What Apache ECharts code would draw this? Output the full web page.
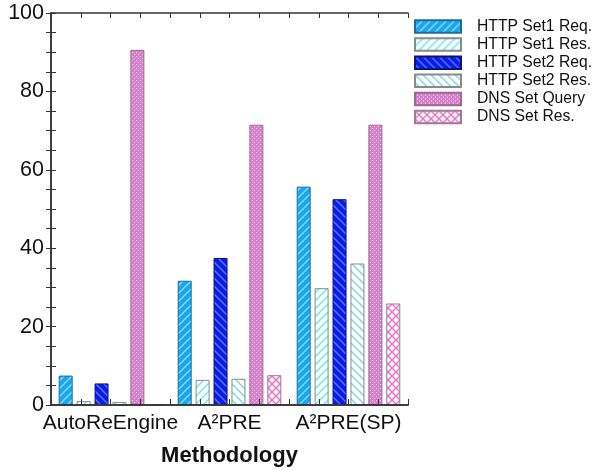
<!DOCTYPE html>
<html>
<head>
<meta charset="utf-8">
<script src="https://cdn.jsdelivr.net/npm/echarts@6/dist/echarts.min.js"></script>
<style>html,body{margin:0;padding:0;background:#fff}#c{width:592px;height:470px}</style>
</head>
<body>
<div id="c"></div>
<script>
var categories = ['AutoReEngine', 'A\u00B2PRE', 'A\u00B2PRE(SP)'];
var seriesNames = ['HTTP Set1 Req.', 'HTTP Set1 Res.', 'HTTP Set2 Req.', 'HTTP Set2 Res.', 'DNS Set Query', 'DNS Set Res.'];
var http1Req = [7.5, 31.7, 55.7];
var http1Res = [1.0, 6.4, 29.8];
var http2Req = [5.5, 37.5, 52.5];
var http2Res = [0.8, 6.7, 36.1];
var dnsQuery = [90.6, 71.5, 71.5];
var dnsRes = [0, 7.6, 25.9];
var yTicks = [0, 20, 40, 60, 80, 100];

function pat(bg, fg, type) {
  var s = type === 'dots' ? 4 : 8;
  var c = document.createElement('canvas');
  c.width = s; c.height = s;
  var g = c.getContext('2d');
  g.fillStyle = bg; g.fillRect(0, 0, s, s);
  g.strokeStyle = fg; g.fillStyle = fg; g.lineWidth = 1.3;
  function fw() { g.beginPath(); g.moveTo(-1, s + 1); g.lineTo(s + 1, -1); g.stroke();
    g.beginPath(); g.moveTo(-1, 1); g.lineTo(1, -1); g.stroke();
    g.beginPath(); g.moveTo(s - 1, s + 1); g.lineTo(s + 1, s - 1); g.stroke(); }
  function bw() { g.beginPath(); g.moveTo(-1, -1); g.lineTo(s + 1, s + 1); g.stroke();
    g.beginPath(); g.moveTo(s - 1, -1); g.lineTo(s + 1, 1); g.stroke();
    g.beginPath(); g.moveTo(-1, s - 1); g.lineTo(1, s + 1); g.stroke(); }
  if (type === 'fw') fw();
  else if (type === 'bw') bw();
  else if (type === 'cross') { fw(); bw(); }
  else if (type === 'dots') { g.fillRect(0, 0, 1, 1); g.fillRect(2, 2, 1, 1); }
  return { image: c, repeat: 'repeat' };
}

var styles = [
  { color: pat('#19A8EE', '#8ED6FA', 'fw'), borderColor: '#1B6C9C' },
  { color: pat('#F2FFFF', '#7FE0E6', 'fw'), borderColor: '#8A8A8A' },
  { color: pat('#0A1DE8', '#5C7BFF', 'bw'), borderColor: '#0A1478' },
  { color: pat('#F6FFFF', '#94CBDC', 'bw'), borderColor: '#8A8A8A' },
  { color: pat('#D77ECB', '#FBE8F6', 'dots'), borderColor: '#9A6A92' },
  { color: pat('#FFF2FC', '#DA78BE', 'cross'), borderColor: '#A0789A' }
];
var dataArr = [http1Req, http1Res, http2Req, http2Res, dnsQuery, dnsRes];

var series = dataArr.map(function (d, i) {
  return {
    name: seriesNames[i], type: 'bar', data: d,
    xAxisIndex: 0, yAxisIndex: 0,
    barWidth: 14, barGap: '28%',
    itemStyle: { color: styles[i].color, borderColor: styles[i].borderColor, borderWidth: 1 }
  };
});

var axisLineStyle = { color: '#333', width: 1.5 };
var chart = echarts.init(document.getElementById('c'), null, { renderer: 'canvas' });
chart.setOption({
  animation: false,
  backgroundColor: '#fff',
  textStyle: { fontFamily: 'Liberation Sans, Arial, sans-serif' },
  grid: { left: 51, top: 13, width: 357, height: 392, containLabel: false, outerBoundsMode: 'none' },
  legend: {
    orient: 'vertical', left: 414, top: 18.5, padding: 0,
    itemWidth: 46, itemHeight: 12.5, itemGap: 2.1,
    icon: 'rect',
    textStyle: { fontSize: 15.7, color: '#111', padding: [0, 0, 0, 11], fontFamily: 'Liberation Sans, Arial, sans-serif' },
    data: seriesNames
  },
  xAxis: [
    {
      type: 'category', data: categories, position: 'bottom',
      axisLine: { lineStyle: axisLineStyle },
      axisTick: { show: false },
      axisLabel: { fontSize: 21, color: '#111', margin: 8, interval: 0, hideOverlap: false },
      name: 'Methodology', nameLocation: 'middle', nameGap: 40,
      nameTextStyle: { fontSize: 22, fontWeight: 'bold', color: '#111' },
      z: 5
    },
    {
      type: 'value', min: 0, max: 12, interval: 1, position: 'bottom',
      axisLine: { show: true, lineStyle: axisLineStyle },
      axisTick: { show: true, inside: true, length: 6, lineStyle: { color: '#333' } },
      axisLabel: { show: false }, splitLine: { show: false }, z: 5
    },
    {
      type: 'value', min: 0, max: 12, interval: 1, position: 'top',
      axisLine: { show: true, lineStyle: axisLineStyle },
      axisTick: { show: true, inside: true, length: 5, lineStyle: { color: '#333' } },
      axisLabel: { show: false }, splitLine: { show: false }, z: 5
    }
  ],
  yAxis: [
    {
      type: 'value', min: yTicks[0], max: yTicks[yTicks.length - 1], interval: 20, position: 'left',
      axisLine: { show: true, lineStyle: axisLineStyle },
      axisTick: { show: true, inside: true, length: 5, lineStyle: { color: '#333' } },
      minorTick: { show: true, splitNumber: 4, length: 5, lineStyle: { color: '#333' } },
      axisLabel: { fontSize: 21.5, color: '#111', margin: 7 },
      splitLine: { show: false },
      name: 'Detail', nameLocation: 'middle', nameGap: 29,
      nameTextStyle: { fontSize: 19, fontWeight: 'bold', color: '#111' },
      z: 5
    },
    {
      type: 'value', min: 0, max: 100, interval: 20, position: 'right',
      axisLine: { show: true, lineStyle: axisLineStyle },
      axisTick: { show: true, inside: true, length: 5, lineStyle: { color: '#333' } },
      minorTick: { show: true, splitNumber: 4, length: 5, lineStyle: { color: '#333' } },
      axisLabel: { show: false }, splitLine: { show: false }, z: 5
    }
  ],
  series: series
});
</script>
</body>
</html>
